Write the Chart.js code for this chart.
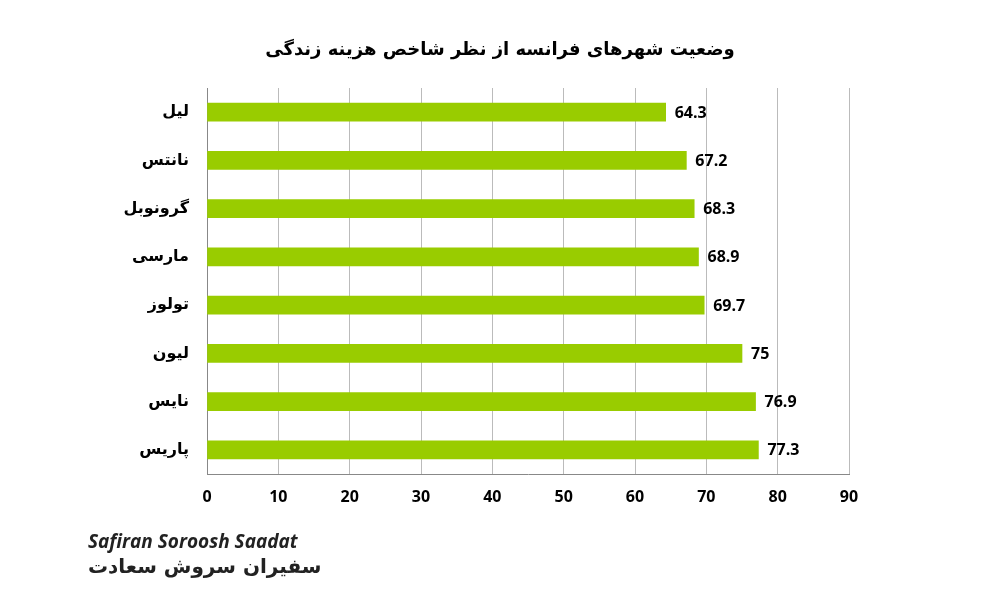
<!DOCTYPE html>
<html lang="fa">
<head>
    <meta charset="UTF-8">
    <title>وضعیت شهرهای فرانسه</title>
    <style>
        body { margin: 0; background: #fff; }
        #wrap { width: 1000px; height: 600px; }
    </style>
</head>
<body>
    <div id="wrap"><canvas id="chart" width="1000" height="600"></canvas></div>
    <script src="https://cdn.jsdelivr.net/npm/chart.js"></script>
    <script>
        const cities = ['لیل', 'نانتس', 'گرونوبل', 'مارسی', 'تولوز', 'لیون', 'نایس', 'پاریس'];
        const costIndex = [64.3, 67.2, 68.3, 68.9, 69.7, 75, 76.9, 77.3];
        const chartTitle = 'وضعیت شهرهای فرانسه از نظر شاخص هزینه زندگی';

        // title, value labels and logo text
        const extras = {
            id: 'extras',
            afterDatasetsDraw(chart) {
                const ctx = chart.ctx;
                ctx.save();
                ctx.fillStyle = '#000';
                ctx.font = 'bold 18px "DejaVu Sans", sans-serif';
                ctx.textAlign = 'center';
                ctx.textBaseline = 'middle';
                ctx.fillText(chartTitle, 500, 50);

                ctx.font = 'bold 16px "Open Sans", sans-serif';
                ctx.textAlign = 'left';
                chart.getDatasetMeta(0).data.forEach((bar, i) => {
                    ctx.fillText(costIndex[i], bar.x + 9, bar.y + 1);
                });

                ctx.font = 'italic bold 19px "Open Sans", sans-serif';
                ctx.fillStyle = '#222';
                ctx.fillText('Safiran Soroosh Saadat', 88, 543);
                ctx.font = 'bold 20px "DejaVu Sans", sans-serif';
                ctx.fillText('سفیران سروش سعادت', 88, 568);
                ctx.restore();
            }
        };

        new Chart(document.getElementById('chart'), {
            type: 'bar',
            data: {
                labels: cities,
                datasets: [{
                    data: costIndex,
                    backgroundColor: '#99cc00',
                    barThickness: 18
                }]
            },
            options: {
                indexAxis: 'y',
                responsive: false,
                animation: false,
                layout: { padding: { top: 88, right: 151, bottom: 86, left: 0 } },
                plugins: { legend: { display: false }, tooltip: { enabled: false } },
                scales: {
                    x: {
                        min: 0, max: 90,
                        ticks: { stepSize: 10, padding: 14, color: '#000', font: { size: 16, weight: 'bold', family: '"Open Sans"' } },
                        grid: { color: '#bbb', drawTicks: false },
                        border: { color: '#888' },
                        afterFit(s) { s.height = 40; }
                    },
                    y: {
                        ticks: { color: '#000', padding: 10, font: { size: 16, weight: 'bold', family: '"DejaVu Sans"' } },
                        grid: { display: false },
                        border: { color: '#888' },
                        afterFit(s) { s.width = 207; }
                    }
                }
            },
            plugins: [extras]
        });
    </script>
</body>
</html>
